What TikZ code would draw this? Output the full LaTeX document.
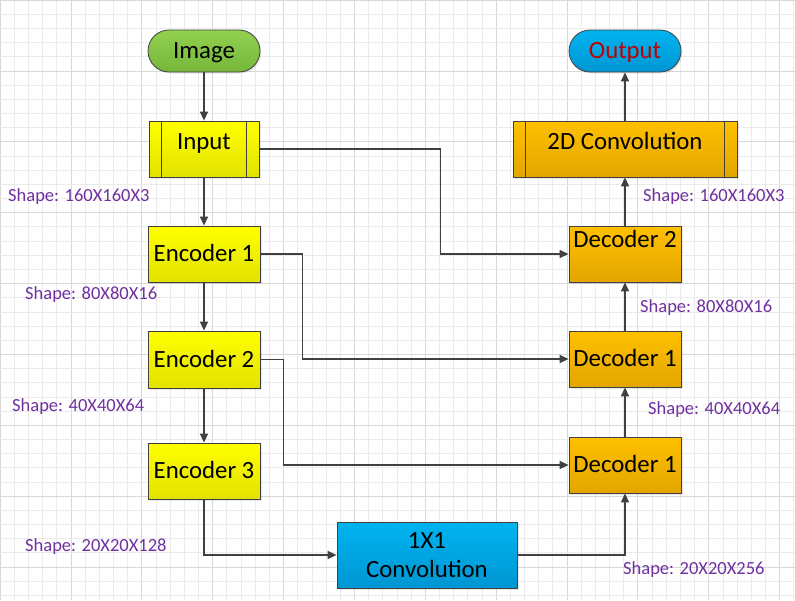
\documentclass[tikz,border=0pt]{standalone}
\usepackage{fontspec}
\setmainfont{Carlito}
\usetikzlibrary{arrows.meta,shadows,calc}
\definecolor{linec}{HTML}{404040}
\definecolor{minorg}{HTML}{EBEBEB}
\definecolor{majorg}{HTML}{D8D8D8}
\definecolor{shapec}{HTML}{7030A0}
\definecolor{yelT}{HTML}{FFFF00}
\definecolor{yelB}{HTML}{E2E200}
\definecolor{orT}{HTML}{FFC000}
\definecolor{orB}{HTML}{E2A600}
\definecolor{blT}{HTML}{00B4F0}
\definecolor{blB}{HTML}{0096D2}
\definecolor{grT}{HTML}{92D050}
\definecolor{grB}{HTML}{76B63A}
\definecolor{redtxt}{HTML}{C00000}
\begin{document}
\begin{tikzpicture}[x=1pt,y=-1pt,
  minorgrid/.style={draw=minorg, line width=0.6pt},
  majorgrid/.style={draw=majorg, line width=0.6pt},
  base/.style={draw=linec, line width=0.8pt, inner sep=0pt,
    font=\fontsize{24.8}{28.5}\selectfont,
    drop shadow={shadow xshift=1.5pt, shadow yshift=-1.5pt, opacity=0.18}},
  txt/.style={text height=17pt, text depth=2pt},
  boxstyle/.style={base, txt, minimum width=112pt, minimum height=56pt},
  yellow/.style={top color=yelT, bottom color=yelB},
  orange/.style={top color=orT, bottom color=orB},
  blue/.style={top color=blT, bottom color=blB},
  green/.style={top color=grT, bottom color=grB},
  term/.style={base, txt, minimum width=112pt, minimum height=42pt, rounded corners=21pt},
  arr/.style={draw=linec, line width=1.3pt, -{Triangle[length=9pt,width=8pt]}},
  shapelbl/.style={anchor=west, inner sep=0pt, text=shapec, font=\fontsize{18.5}{22}\selectfont}
]
\useasboundingbox (0,0) rectangle (795,600);
\fill[white] (0,0) rectangle (795,600);
% grid
\foreach \i in {0,...,56} {
  \pgfmathsetmacro{\xx}{\i*14.173}
  \pgfmathtruncatemacro{\m}{mod(\i,5)}
  \ifnum\m=0 \draw[majorgrid] (\xx,0) -- (\xx,600); \else \draw[minorgrid] (\xx,0) -- (\xx,600); \fi
}
\foreach \i in {0,...,42} {
  \pgfmathsetmacro{\yy}{\i*14.173}
  \pgfmathtruncatemacro{\m}{mod(\i,5)}
  \ifnum\m=0 \draw[majorgrid] (0,\yy) -- (795,\yy); \else \draw[minorgrid] (0,\yy) -- (795,\yy); \fi
}

% nodes
\node[term, green] (img) at (204,51) {Image};
\node[boxstyle, yellow, minimum width=110pt, text depth=15.6pt] (inp) at (204,149) {Input};
\draw[linec, line width=0.8pt] ([xshift=13pt]inp.north west) -- ([xshift=13pt]inp.south west);
\draw[linec, line width=0.8pt] ([xshift=-13pt]inp.north east) -- ([xshift=-13pt]inp.south east);
\node[boxstyle, yellow] (enc1) at (204,254) {Encoder 1};
\node[boxstyle, yellow, minimum height=57pt] (enc2) at (204,359.5) {Encoder 2};
\node[boxstyle, yellow] (enc3) at (204,471) {Encoder 3};
\node[base, blue, minimum width=180pt, minimum height=66pt, align=center] (conv1) at (427,555) {1X1\\Convolution};
\node[boxstyle, orange] (decl) at (625,465) {Decoder 1};
\node[boxstyle, orange] (decm) at (625,359) {Decoder 1};
\node[boxstyle, orange, text depth=29.6pt] (dec2) at (625,254) {Decoder 2};
\node[boxstyle, orange, minimum width=224pt, text depth=15.6pt] (conv2) at (625,149) {2D Convolution};
\draw[linec, line width=0.8pt] ([xshift=13pt]conv2.north west) -- ([xshift=13pt]conv2.south west);
\draw[linec, line width=0.8pt] ([xshift=-13pt]conv2.north east) -- ([xshift=-13pt]conv2.south east);
\node[term, blue, text=redtxt] (out) at (625,51) {Output};

% shape labels
\node[shapelbl] (s1) at (8,197) {Shape: 160X160X3};
\node[shapelbl] (s2) at (25,295) {Shape: 80X80X16};
\node[shapelbl] (s3) at (12,407) {Shape: 40X40X64};
\node[shapelbl] (s4) at (25,547) {Shape: 20X20X128};
\node[shapelbl] (s5) at (623,570) {Shape: 20X20X256};
\node[shapelbl] (s6) at (648,410) {Shape: 40X40X64};
\node[shapelbl] (s7) at (640,308) {Shape: 80X80X16};
\node[shapelbl] (s8) at (643,197) {Shape: 160X160X3};

% connectors
\draw[arr] (img.south) -- (inp.north);
\draw[arr] (inp.south) -- (enc1.north);
\draw[arr] (enc1.south) -- (enc2.north);
\draw[arr] (enc2.south) -- (enc3.north);
\draw[arr] (enc3.south) |- (conv1.west);
\draw[arr] (conv1.east) -| (decl.south);
\draw[arr] (decl.north) -- (decm.south);
\draw[arr] (decm.north) -- (dec2.south);
\draw[arr] (dec2.north) -- (conv2.south);
\draw[arr] (conv2.north) -- (out.south);
\draw[arr] (inp.east) -- ++(181,0) |- (dec2.west);
\draw[arr] (enc1.east) -- ++(42,0) |- (decm.west);
\draw[arr] (enc2.east) -- ++(23,0) |- (decl.west);
\end{tikzpicture}
\end{document}
